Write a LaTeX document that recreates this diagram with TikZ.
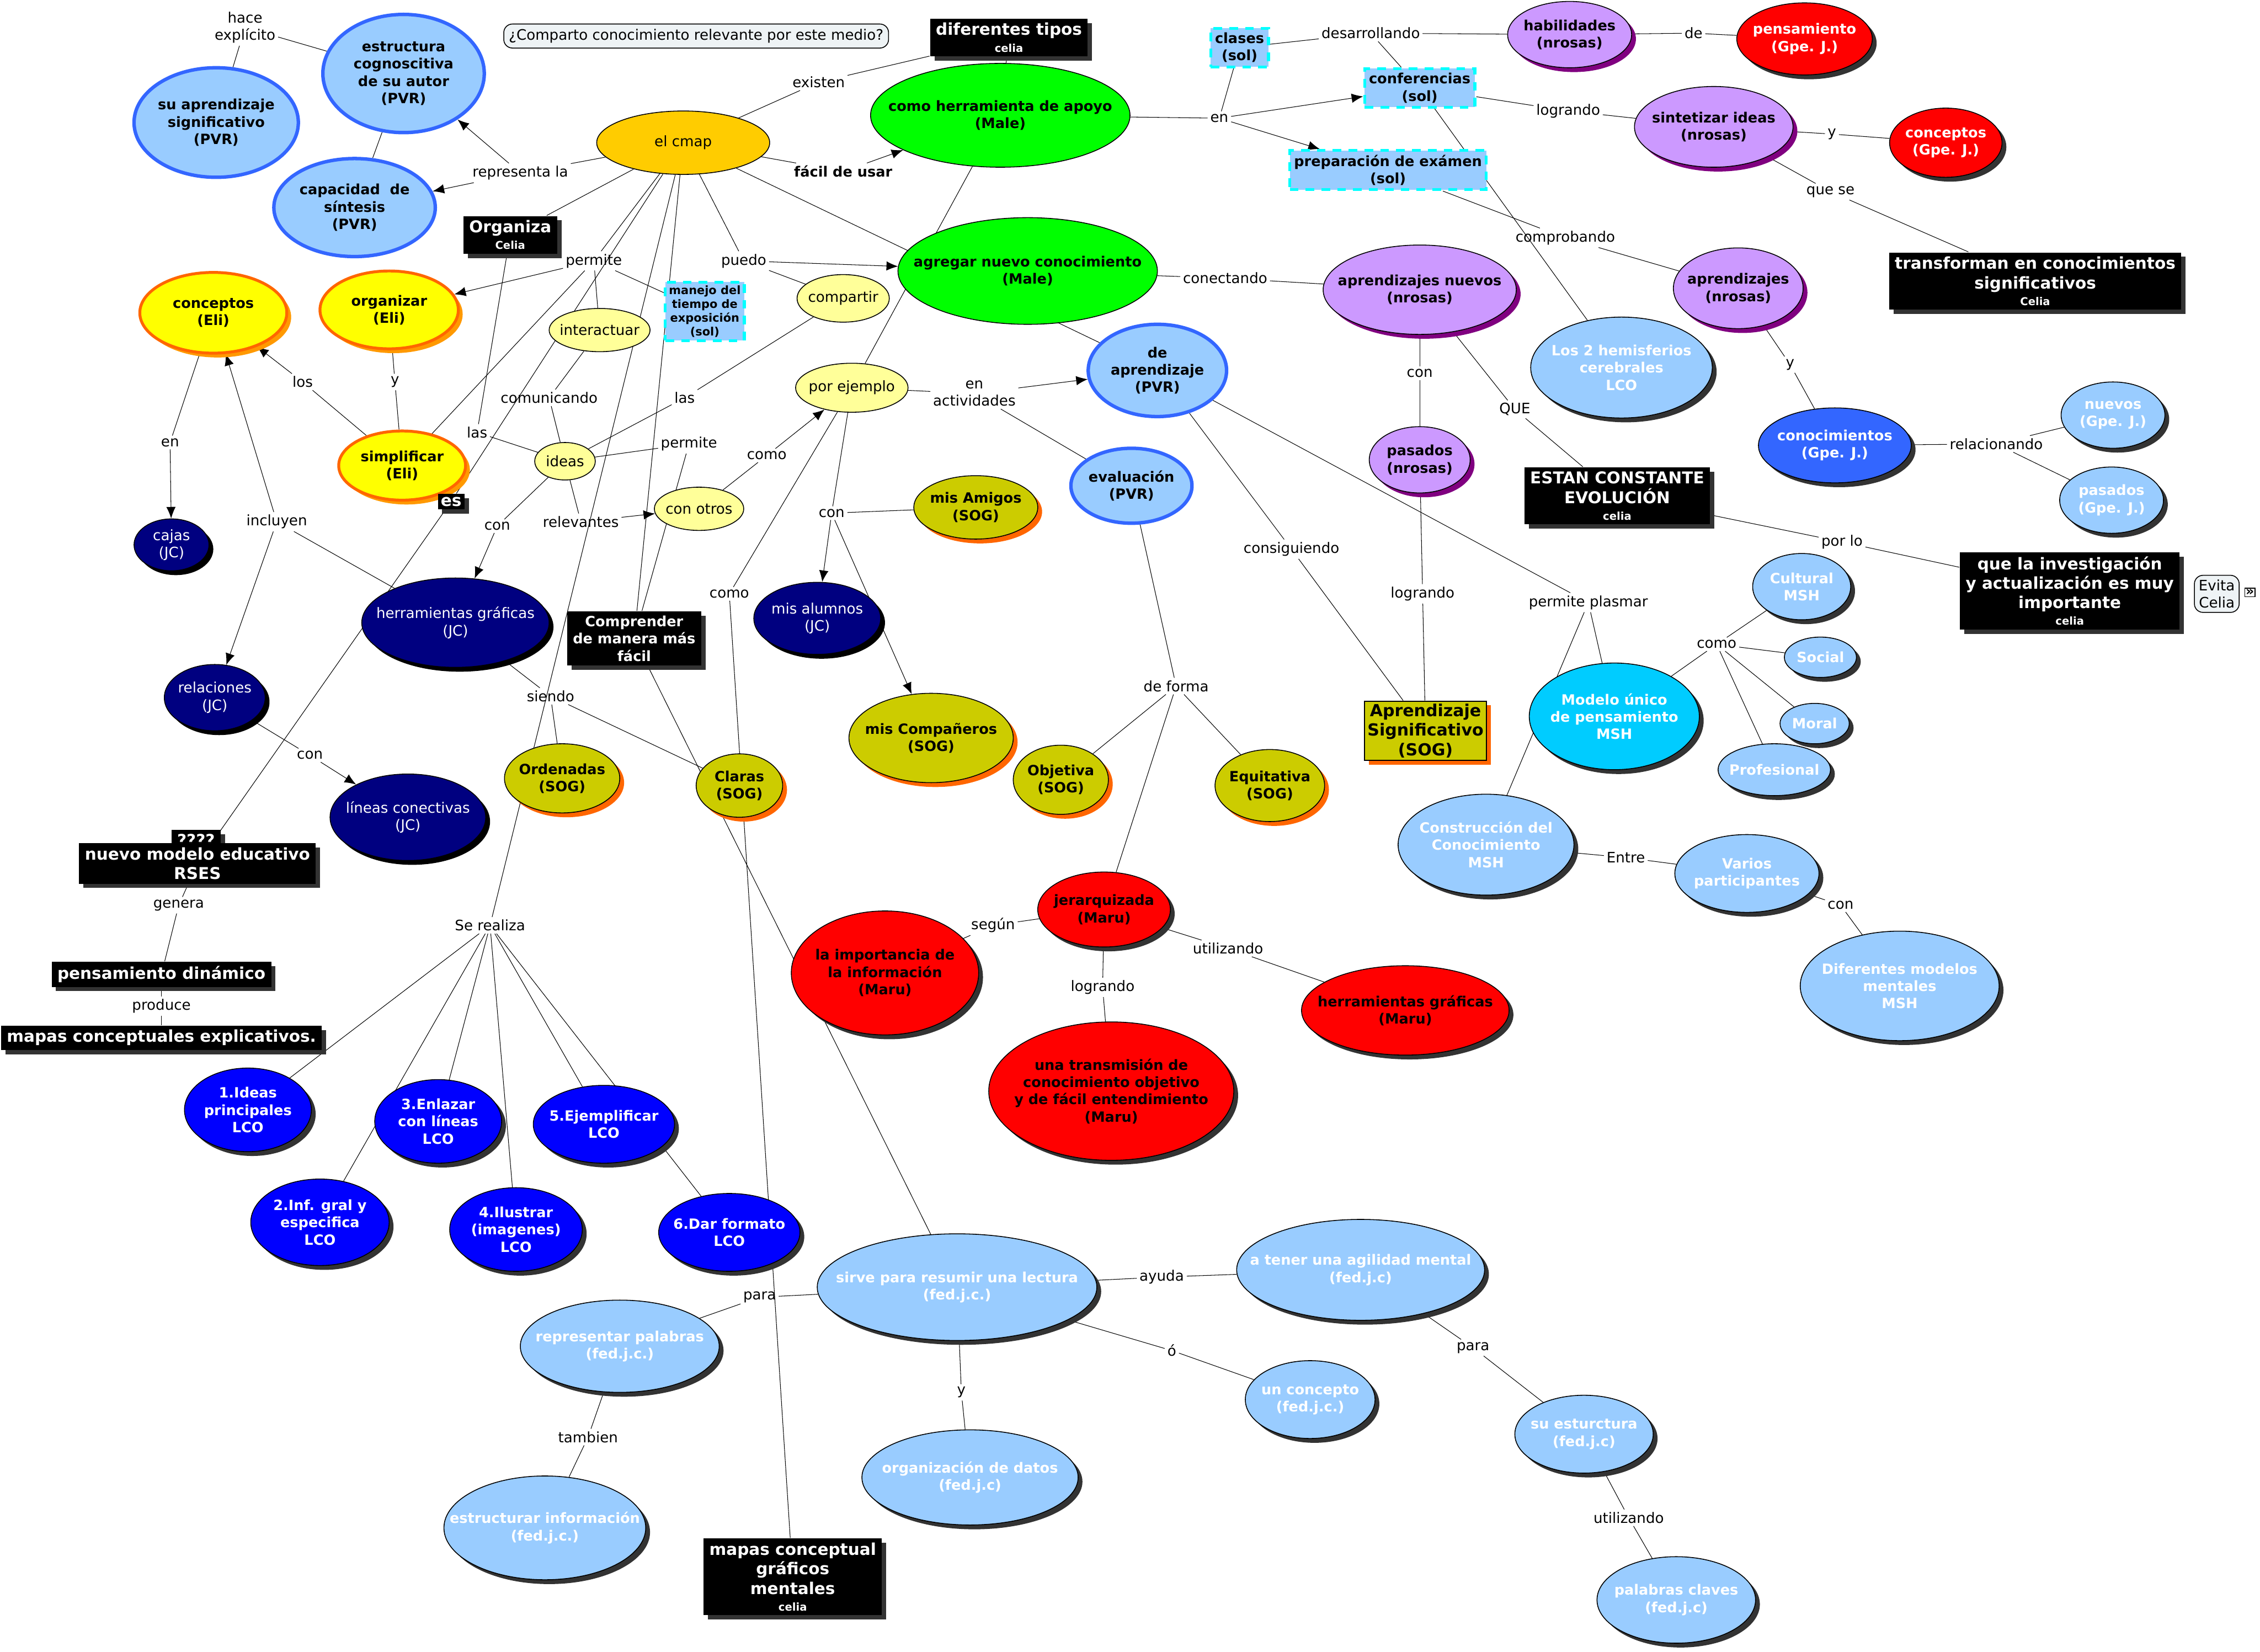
\documentclass[tikz,border=0pt]{standalone}
\usepackage{fontspec}
\setmainfont{DejaVu Sans}
\usetikzlibrary{arrows.meta,shapes.geometric,shadows}

\definecolor{pvrfill}{HTML}{99CCFF}
\definecolor{pvrline}{HTML}{3366FF}
\definecolor{eliyel}{HTML}{FFFF00}
\definecolor{eliorg}{HTML}{FF6600}
\definecolor{elish}{HTML}{FF9900}
\definecolor{paleyel}{HTML}{FFFF99}
\definecolor{cmapyel}{HTML}{FFCC00}
\definecolor{malegrn}{HTML}{00FF00}
\definecolor{sogolive}{HTML}{CCCC00}
\definecolor{nrosfill}{HTML}{CC99FF}
\definecolor{nrossh}{HTML}{800080}
\definecolor{jcnavy}{HTML}{000080}
\definecolor{lcoblue}{HTML}{0000FF}
\definecolor{marured}{HTML}{FF0000}
\definecolor{mshcyan}{HTML}{00CCFF}
\definecolor{gpeblue}{HTML}{3366FF}
\definecolor{solcyan}{HTML}{00FFFF}
\definecolor{notefill}{HTML}{EEF3F5}
\definecolor{shgray}{HTML}{333333}

\newsavebox{\ctbox}
\newcommand{\nfont}{\fontsize{10}{12}\selectfont}
\newcommand{\bfont}{\fontsize{9.8}{12}\selectfont\bfseries}
\newcommand{\hfont}{\fontsize{11.3}{13.5}\selectfont\bfseries}
\newcommand{\who}[1]{\\[-2pt]{\fontsize{7.5}{8}\selectfont #1}}

\pgfdeclarelayer{bg}
\pgfsetlayers{bg,main}

\begin{document}
\begin{tikzpicture}[
  x=1pt, y=-1pt, line width=0.8pt,
  >={Latex[length=8pt,width=6.5pt]},
  fixed/.style={execute at begin node={\setbox\ctbox=\hbox\bgroup},
    execute at end node={\egroup\raisebox{\dimexpr(\dp\ctbox-\ht\ctbox)/2\relax}[0pt][0pt]{\makebox[0pt]{\usebox\ctbox}}}},
  concept/.style={ellipse, draw=black, line width=0.6pt, inner sep=0pt, align=center, font=\bfont, fixed},
  dsh/.style={drop shadow={fill=#1, shadow xshift=3pt, shadow yshift=-3pt, opacity=1}},
  pvr/.style={concept, fill=pvrfill, draw=pvrline, line width=2.4pt},
  eli/.style={concept, fill=eliyel, draw=eliorg, line width=2pt, dsh=elish},
  pale/.style={concept, fill=paleyel, font=\nfont},
  tool/.style={concept, fill=cmapyel, font=\nfont},
  male/.style={concept, fill=malegrn},
  sog/.style={concept, fill=sogolive, dsh=eliorg},
  nros/.style={concept, fill=nrosfill, dsh=nrossh},
  jc/.style={concept, fill=jcnavy, text=white, font=\nfont, dsh=black},
  lco/.style={concept, fill=lcoblue, text=white, dsh=shgray},
  maru/.style={concept, fill=marured, dsh=shgray},
  gpe/.style={concept, fill=marured, text=white, dsh=shgray},
  msh/.style={concept, fill=pvrfill, text=white, dsh=shgray},
  blk/.style={rectangle, fill=black, text=white, font=\hfont, align=center, inner xsep=4pt, inner ysep=3pt, dsh=shgray},
  sol/.style={rectangle, fill=pvrfill, draw=solcyan, line width=2pt, dash pattern=on 6pt off 5pt, font=\bfont, align=center, inner sep=3pt},
  note/.style={rectangle, rounded corners=6pt, fill=notefill, draw=black, line width=0.6pt, font=\nfont, align=center, inner sep=3.5pt},
  lbl/.style={font=\nfont, align=center, inner sep=1.5pt}
]
\useasboundingbox (0,0) rectangle (1568,1146);

% upper left
\node[pvr, minimum width=114, minimum height=76] (aprsig) at (150,85) {su aprendizaje\\significativo\\(PVR)};
\node[pvr, minimum width=112, minimum height=82] (estru) at (280,51) {estructura\\cognoscitiva\\de su autor\\(PVR)};
\node[pvr, minimum width=112, minimum height=68] (capsin) at (246,144) {capacidad~~de\\síntesis\\(PVR)};
\node[lbl] (hace) at (170,19) {hace\\explícito};
\node[lbl] (representa) at (361,120) {representa la};
\node[note] (quest) at (483,25) {¿Comparto conocimiento relevante por este medio?};

% el cmap
\node[tool, minimum width=120, minimum height=44] (cmap) at (474,99) {el cmap};
\node[blk] (diftip) at (700,26) {diferentes tipos\who{celia}};
\node[lbl] (existen) at (568,57) {existen};
\node[lbl, font=\bfont] (facil) at (585,119) {fácil de usar};
\node[male, minimum width=180, minimum height=72] (herram) at (694,80) {como herramienta de apoyo\\(Male)};
\node[male, minimum width=180, minimum height=74] (agregar) at (713,188) {agregar nuevo conocimiento\\(Male)};
\node[blk] (organiza) at (354,163) {Organiza\who{Celia}};
\node[lbl] (permiteA) at (412,181) {permite};
\node[lbl] (puedo) at (516,181) {puedo};
\node[sol, font=\fontsize{8}{9.5}\selectfont\bfseries, inner sep=2.5pt] (manejo) at (489,216) {manejo del\\tiempo de\\exposición\\(sol)};
\node[pale, minimum width=64, minimum height=33] (compartir) at (585,207) {compartir};
\node[pale, minimum width=70, minimum height=30] (interactuar) at (416,229) {interactuar};
\node[pale, minimum width=42, minimum height=26] (ideas) at (392,320) {ideas};
\node[pale, minimum width=62, minimum height=30] (conotros) at (485,353) {con otros};
\node[pale, minimum width=78, minimum height=34] (porej) at (591,269) {por ejemplo};
\node[lbl] (comunicando) at (381,276) {comunicando};
\node[lbl] (lasB) at (475,276) {las};
\node[lbl] (lasA) at (331,300) {las};
\node[lbl] (permiteB) at (478,308) {permite};
\node[lbl] (comoA) at (532,316) {como};
\node[lbl] (relevantes) at (403,362) {relevantes};
\node[lbl] (conA) at (345,365) {con};
\node[lbl] (enact) at (676,273) {en\\actividades};
\node[lbl] (conB) at (577,356) {con};
\node[lbl] (comoB) at (506,412) {como};

% Eli
\node[eli, minimum width=102, minimum height=56] (conceptosE) at (148,217) {conceptos\\(Eli)};
\node[eli, minimum width=96, minimum height=54] (organizar) at (270,215) {organizar\\(Eli)};
\node[eli, minimum width=88, minimum height=48] (simplificar) at (279,323) {simplificar\\(Eli)};
\node[lbl] (los) at (210,265) {los};
\node[lbl] (yA) at (274,265) {y};
\node[lbl] (enA) at (118,307) {en};
\node[lbl] (incluyen) at (192,362) {incluyen};
\node[blk, inner sep=2pt] (es) at (313,348) {es};

% JC
\node[jc, minimum width=52, minimum height=36] (cajas) at (119,378) {cajas\\(JC)};
\node[jc, minimum width=130, minimum height=62] (herrJC) at (316,432) {herramientas gráficas\\(JC)};
\node[jc, minimum width=70, minimum height=46] (relaciones) at (149,484) {relaciones\\(JC)};
\node[jc, minimum width=108, minimum height=60] (lineas) at (283,567) {líneas conectivas\\(JC)};
\node[jc, minimum width=88, minimum height=50] (alumnos) at (567,429) {mis alumnos\\(JC)};
\node[lbl] (conD) at (215,524) {con};
\node[blk, font=\bfont] (comprender) at (440,443) {Comprender\\de manera más\\fácil};

% SOG
\node[sog, minimum width=86, minimum height=44] (amigos) at (677,352) {mis Amigos\\(SOG)};
\node[sog, minimum width=114, minimum height=62] (companeros) at (646,512) {mis Compañeros\\(SOG)};
\node[sog, minimum width=80, minimum height=48] (ordenadas) at (390,540) {Ordenadas\\(SOG)};
\node[sog, minimum width=60, minimum height=44] (claras) at (513,545) {Claras\\(SOG)};
\node[sog, minimum width=66, minimum height=48] (objetiva) at (736,541) {Objetiva\\(SOG)};
\node[sog, minimum width=76, minimum height=50] (equitativa) at (881,545) {Equitativa\\(SOG)};
\node[rectangle, fill=sogolive, draw=black, line width=0.8pt, font=\fontsize{11.5}{13.5}\selectfont\bfseries, align=center, inner sep=2pt, dsh=eliorg] (aprsigS) at (989,507) {Aprendizaje\\Significativo\\(SOG)};
\node[lbl] (siendo) at (382,483) {siendo};
\node[lbl] (deforma) at (816,476) {de forma};

% PVR middle
\node[pvr, minimum width=96, minimum height=64] (deapr) at (803,257) {de\\aprendizaje\\(PVR)};
\node[pvr, minimum width=84, minimum height=52] (evaluacion) at (785,337) {evaluación\\(PVR)};
\node[lbl] (conectando) at (850,193) {conectando};
\node[lbl] (consiguiendo) at (896,381) {consiguiendo};
\node[lbl] (permplasmar) at (1102,418) {permite plasmar};

% nrosas
\node[nros, minimum width=134, minimum height=62] (aprnuevos) at (985,201) {aprendizajes nuevos\\(nrosas)};
\node[nros, minimum width=70, minimum height=46] (pasadosN) at (985,319) {pasados\\(nrosas)};
\node[nros, minimum width=86, minimum height=46] (habilidades) at (1089,24) {habilidades\\(nrosas)};
\node[nros, minimum width=110, minimum height=56] (sintetizar) at (1189,88) {sintetizar ideas\\(nrosas)};
\node[nros, minimum width=90, minimum height=56] (aprendN) at (1206,200) {aprendizajes\\(nrosas)};
\node[lbl] (conC) at (985,259) {con};
\node[lbl] (que) at (1051,284) {QUE};
\node[lbl] (lograndoA) at (987,412) {logrando};
\node[blk] (estan) at (1122,344) {ESTAN CONSTANTE\\EVOLUCIÓN\who{celia}};
\node[lbl] (porlo) at (1278,376) {por lo};
\node[blk] (invest) at (1436,410) {que la investigación\\y actualización es muy\\importante\who{celia}};
\node[note, inner sep=3pt] (evita) at (1538,412) {Evita\\Celia};
\node[rectangle, draw=black, fill=white, line width=0.5pt, inner sep=0.6pt, font=\fontsize{9}{9}\selectfont\bfseries] (evitaicon) at (1561,411) {»};

% sol + Gpe. J.
\node[sol] (clases) at (860,33) {clases\\(sol)};
\node[sol] (conferencias) at (985,61) {conferencias\\(sol)};
\node[sol] (preparacion) at (963,118) {preparación de exámen\\(sol)};
\node[lbl] (desarrollando) at (951,23) {desarrollando};
\node[lbl] (de) at (1175,23) {de};
\node[lbl] (enB) at (846,82) {en};
\node[lbl] (lograndoC) at (1088,77) {logrando};
\node[lbl] (yC) at (1271,93) {y};
\node[lbl] (quese) at (1270,133) {que se};
\node[lbl] (comprobando) at (1086,165) {comprobando};
\node[lbl] (yD) at (1242,253) {y};
\node[lbl] (relacionando) at (1385,308) {relacionando};
\node[gpe, minimum width=94, minimum height=50] (pensG) at (1252,27) {pensamiento\\(Gpe. J.)};
\node[gpe, minimum width=78, minimum height=48] (conceptosG) at (1350,99) {conceptos\\(Gpe. J.)};
\node[concept, fill=gpeblue, text=white, dsh=shgray, minimum width=106, minimum height=52] (conocG) at (1273,309) {conocimientos\\(Gpe. J.)};
\node[msh, minimum width=72, minimum height=46] (nuevosG) at (1466,288) {nuevos\\(Gpe. J.)};
\node[msh, minimum width=72, minimum height=46] (pasadosG) at (1465,347) {pasados\\(Gpe. J.)};
\node[blk] (transforman) at (1412,195) {transforman en conocimientos\\significativos\who{Celia}};
\node[msh, minimum width=126, minimum height=70] (hemisferios) at (1125,255) {Los 2 hemisferios\\cerebrales\\LCO};

% MSH
\node[concept, fill=mshcyan, text=white, dsh=shgray, minimum width=118, minimum height=74] (modelo) at (1120,497) {Modelo único\\de pensamiento\\MSH};
\node[msh, minimum width=68, minimum height=46] (cultural) at (1250,407) {Cultural\\MSH};
\node[msh, minimum width=50, minimum height=28] (social) at (1263,456) {Social};
\node[msh, minimum width=48, minimum height=28] (moral) at (1259,502) {Moral};
\node[msh, minimum width=78, minimum height=36] (profesional) at (1231,534) {Profesional};
\node[msh, minimum width=122, minimum height=70] (construccion) at (1031,586) {Construcción del\\Conocimiento\\MSH};
\node[msh, minimum width=100, minimum height=54] (varios) at (1212,606) {Varios\\participantes};
\node[msh, minimum width=138, minimum height=76] (diferentes) at (1318,684) {Diferentes modelos\\mentales\\MSH};
\node[lbl] (comoC) at (1191,447) {como};
\node[lbl] (entre) at (1128,595) {Entre};
\node[lbl] (conE) at (1277,628) {con};

% Maru
\node[maru, minimum width=92, minimum height=52] (jerarquizada) at (766,631) {jerarquizada\\(Maru)};
\node[maru, minimum width=130, minimum height=86] (importancia) at (614,675) {la importancia de\\la información\\(Maru)};
\node[maru, minimum width=144, minimum height=62] (herrM) at (975,701) {herramientas gráficas\\(Maru)};
\node[maru, minimum width=170, minimum height=96] (transmision) at (771,757) {una transmisión de\\conocimiento objetivo\\y de fácil entendimiento\\(Maru)};
\node[lbl] (segun) at (689,642) {según};
\node[lbl] (utilizandoA) at (852,658) {utilizando};
\node[lbl] (lograndoB) at (765,685) {logrando};

% RSES
\node[blk] (qmarks) at (136,583) {????};
\node[blk] (nuevomod) at (137,599) {nuevo modelo educativo\\RSES};
\node[lbl] (genera) at (124,628) {genera};
\node[blk] (pensdin) at (112,676) {pensamiento dinámico};
\node[lbl] (produce) at (112,698) {produce};
\node[blk] (mapasexp) at (112,720) {mapas conceptuales explicativos.};

% LCO
\node[lbl] (serealiza) at (340,642) {Se realiza};
\node[lco, minimum width=88, minimum height=58] (lcoA) at (172,770) {1.Ideas\\principales\\LCO};
\node[lco, minimum width=96, minimum height=60] (lcoB) at (222,848) {2.Inf. gral y\\especifica\\LCO};
\node[lco, minimum width=88, minimum height=58] (lcoC) at (304,778) {3.Enlazar\\con líneas\\LCO};
\node[lco, minimum width=92, minimum height=58] (lcoD) at (358,853) {4.Ilustrar\\(imagenes)\\LCO};
\node[lco, minimum width=98, minimum height=54] (lcoE) at (419,780) {5.Ejemplificar\\LCO};
\node[lco, minimum width=98, minimum height=54] (lcoF) at (506,855) {6.Dar formato\\LCO};

% fed.j.c
\node[msh, minimum width=194, minimum height=74] (sirve) at (664,893) {sirve para resumir una lectura\\(fed.j.c.)};
\node[msh, minimum width=172, minimum height=70] (agilidad) at (944,881) {a tener una agilidad mental\\(fed.j.c)};
\node[msh, minimum width=138, minimum height=64] (representar) at (430,934) {representar palabras\\(fed.j.c.)};
\node[msh, minimum width=90, minimum height=54] (unconcepto) at (909,971) {un concepto\\(fed.j.c.)};
\node[msh, minimum width=96, minimum height=54] (esturctura) at (1099,995) {su esturctura\\(fed.j.c)};
\node[msh, minimum width=150, minimum height=66] (orgdatos) at (673,1025) {organización de datos\\(fed.j.c)};
\node[msh, minimum width=140, minimum height=72] (estinfo) at (378,1060) {estructurar información\\(fed.j.c.)};
\node[msh, minimum width=110, minimum height=60] (palabras) at (1163,1110) {palabras claves\\(fed.j.c)};
\node[blk] (mapasgraf) at (550,1094) {mapas conceptual\\gráficos\\mentales\who{celia}};
\node[lbl] (paraA) at (527,900) {para};
\node[lbl] (ayuda) at (806,886) {ayuda};
\node[lbl] (oacc) at (813,937) {ó};
\node[lbl] (paraB) at (1022,935) {para};
\node[lbl] (yB) at (667,966) {y};
\node[lbl] (tambien) at (408,997) {tambien};
\node[lbl] (utilizandoB) at (1130,1053) {utilizando};

\begin{pgfonlayer}{bg}
\fill[white] (0,0) rectangle (1568,1146);
\draw (aprsig) -- (hace);
\draw (hace) -- (estru);
\draw (estru) -- (capsin);
\draw (cmap) -- (representa);
\draw[->] (representa) -- (estru);
\draw[->] (representa) -- (capsin);
\draw (cmap) -- (existen);
\draw (existen) -- (diftip);
\draw (diftip) -- (herram);
\draw (cmap) -- (facil);
\draw[->] (facil) -- (herram);
\draw (cmap) -- (deapr);
\draw (cmap) -- (organiza);
\draw (organiza) -- (lasA);
\draw (lasA) -- (ideas);
\draw (cmap) -- (permiteA);
\draw[->] (permiteA) -- (organizar);
\draw (permiteA) -- (interactuar);
\draw (permiteA) -- (manejo);
\draw (permiteA) -- (simplificar);
\draw (cmap) -- (es);
\draw (es) -- (nuevomod);
\draw (cmap) -- (serealiza);
\draw (cmap) -- (comprender);
\draw (cmap) -- (puedo);
\draw[->] (puedo) -- (agregar);
\draw (puedo) -- (compartir);
\draw (herram) -- (porej);
\draw (compartir) -- (lasB);
\draw (lasB) -- (ideas);
\draw (interactuar) -- (comunicando);
\draw (comunicando) -- (ideas);
\draw (ideas) -- (permiteB);
\draw (permiteB) -- (comprender);
\draw (ideas) -- (relevantes);
\draw[->] (relevantes) -- (conotros);
\draw (ideas) -- (conA);
\draw[->] (conA) -- (herrJC);
\draw (conotros) -- (comoA);
\draw[->] (comoA) -- (porej);
\draw (porej) -- (comoB);
\draw (comoB) -- (mapasgraf);
\draw (porej) -- (enact);
\draw[->] (enact) -- (deapr);
\draw (enact) -- (evaluacion);
\draw (porej) -- (conB);
\draw (conB) -- (amigos);
\draw[->] (conB) -- (alumnos);
\draw[->] (conB) -- (companeros);
\draw (organizar) -- (yA);
\draw (yA) -- (simplificar);
\draw (simplificar) -- (los);
\draw[->] (los) -- (conceptosE);
\draw (conceptosE) -- (enA);
\draw[->] (enA) -- (cajas);
\draw (herrJC) -- (incluyen);
\draw[->] (incluyen) -- (conceptosE);
\draw[->] (incluyen) -- (relaciones);
\draw (herrJC) -- (siendo);
\draw (siendo) -- (ordenadas);
\draw (siendo) -- (claras);
\draw (relaciones) -- (conD);
\draw[->] (conD) -- (lineas);
\draw (nuevomod) -- (genera);
\draw (genera) -- (pensdin);
\draw (pensdin) -- (produce);
\draw (produce) -- (mapasexp);
\foreach \n in {lcoA,lcoB,lcoC,lcoD,lcoE,lcoF}
  \draw (serealiza) -- (\n);
\draw (comprender) -- (sirve);
\draw (agregar) -- (conectando);
\draw (conectando) -- (aprnuevos);
\draw (deapr) -- (consiguiendo);
\draw (consiguiendo) -- (aprsigS);
\draw (deapr) -- (permplasmar);
\draw (permplasmar) -- (modelo);
\draw (permplasmar) -- (construccion);
\draw (aprnuevos) -- (conC);
\draw (conC) -- (pasadosN);
\draw (pasadosN) -- (lograndoA);
\draw (lograndoA) -- (aprsigS);
\draw (aprnuevos) -- (que);
\draw (que) -- (estan);
\draw (estan) -- (porlo);
\draw (porlo) -- (invest);
\draw (evaluacion) -- (deforma);
\draw (deforma) -- (objetiva);
\draw (deforma) -- (equitativa);
\draw (deforma) -- (jerarquizada);
\draw (jerarquizada) -- (segun);
\draw (segun) -- (importancia);
\draw (jerarquizada) -- (utilizandoA);
\draw (utilizandoA) -- (herrM);
\draw (jerarquizada) -- (lograndoB);
\draw (lograndoB) -- (transmision);
\draw (modelo) -- (comoC);
\foreach \n in {cultural,social,moral,profesional}
  \draw (comoC) -- (\n);
\draw (construccion) -- (entre);
\draw (entre) -- (varios);
\draw (varios) -- (conE);
\draw (conE) -- (diferentes);
\draw (sirve) -- (paraA);
\draw (paraA) -- (representar);
\draw (sirve) -- (ayuda);
\draw (ayuda) -- (agilidad);
\draw (sirve) -- (oacc);
\draw (oacc) -- (unconcepto);
\draw (sirve) -- (yB);
\draw (yB) -- (orgdatos);
\draw (representar) -- (tambien);
\draw (tambien) -- (estinfo);
\draw (agilidad) -- (paraB);
\draw (paraB) -- (esturctura);
\draw (esturctura) -- (utilizandoB);
\draw (utilizandoB) -- (palabras);
\draw (herram) -- (enB);
\draw[->] (enB) -- (conferencias);
\draw[->] (enB) -- (preparacion);
\draw (enB) -- (clases);
\draw (clases) -- (desarrollando);
\draw (desarrollando) -- (habilidades);
\draw (desarrollando) -- (conferencias);
\draw (habilidades) -- (de);
\draw (de) -- (pensG);
\draw (conferencias) -- (lograndoC);
\draw (lograndoC) -- (sintetizar);
\draw (sintetizar) -- (yC);
\draw (yC) -- (conceptosG);
\draw (sintetizar) -- (quese);
\draw (quese) -- (transforman);
\draw (preparacion) -- (comprobando);
\draw (comprobando) -- (aprendN);
\draw (conferencias) -- (hemisferios);
\draw (aprendN) -- (yD);
\draw (yD) -- (conocG);
\draw (conocG) -- (relacionando);
\draw (relacionando) -- (nuevosG);
\draw (relacionando) -- (pasadosG);
\end{pgfonlayer}
\end{tikzpicture}
\end{document}
